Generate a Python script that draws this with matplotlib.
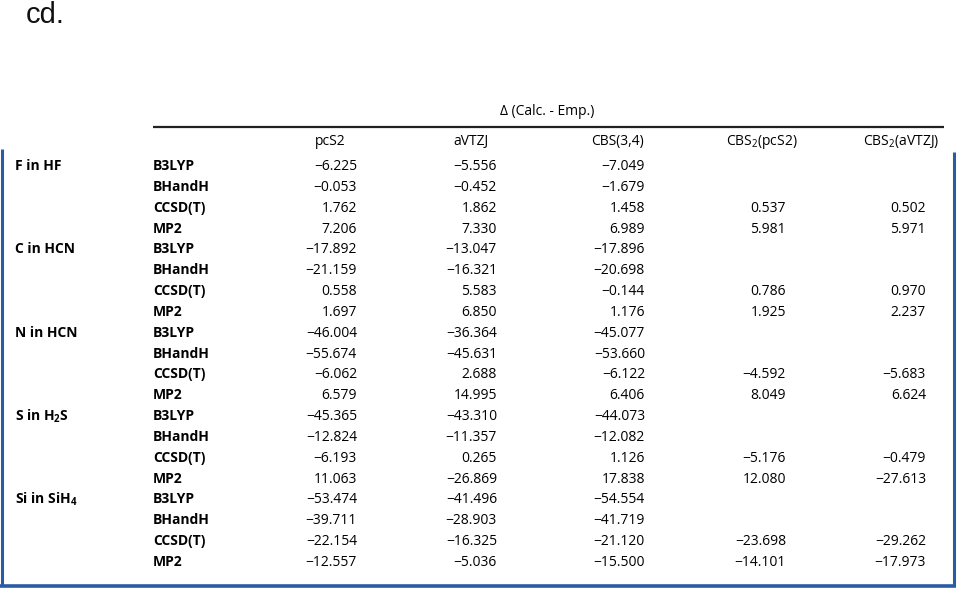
import matplotlib.pyplot as plt

# Table contents
groups = ["F in HF", "C in HCN", "N in HCN", "S in H$\\mathregular{_2}$S", "Si in SiH$\\mathregular{_4}$"]
methods = ["B3LYP", "BHandH", "CCSD(T)", "MP2"]
col_heads = ["pcS2", "aVTZJ", "CBS(3,4)",
             "CBS$\\mathregular{_2}$(pcS2)", "CBS$\\mathregular{_2}$(aVTZJ)"]

pcS2 = [-6.225, -0.053, 1.762, 7.206,
        -17.892, -21.159, 0.558, 1.697,
        -46.004, -55.674, -6.062, 6.579,
        -45.365, -12.824, -6.193, 11.063,
        -53.474, -39.711, -22.154, -12.557]
aVTZJ = [-5.556, -0.452, 1.862, 7.330,
         -13.047, -16.321, 5.583, 6.850,
         -36.364, -45.631, 2.688, 14.995,
         -43.310, -11.357, 0.265, -26.869,
         -41.496, -28.903, -16.325, -5.036]
cbs34 = [-7.049, -1.679, 1.458, 6.989,
         -17.896, -20.698, -0.144, 1.176,
         -45.077, -53.660, -6.122, 6.406,
         -44.073, -12.082, 1.126, 17.838,
         -54.554, -41.719, -21.120, -15.500]
cbs2_pcS2 = [None, None, 0.537, 5.981,
             None, None, 0.786, 1.925,
             None, None, -4.592, 8.049,
             None, None, -5.176, 12.080,
             None, None, -23.698, -14.101]
cbs2_aVTZJ = [None, None, 0.502, 5.971,
              None, None, 0.970, 2.237,
              None, None, -5.683, 6.624,
              None, None, -0.479, -27.613,
              None, None, -29.262, -17.973]

columns = [pcS2, aVTZJ, cbs34, cbs2_pcS2, cbs2_aVTZJ]

plt.rcParams['mathtext.fontset'] = 'custom'
plt.rcParams['mathtext.rm'] = 'Open Sans'

fig = plt.figure(figsize=(9.6, 5.9), dpi=100)
ax = fig.add_axes([0, 0, 1, 1])
ax.set_xlim(0, 960)
ax.set_ylim(590, 0)
ax.axis('off')

font = 'Open Sans'
fs = 10
blue = '#2a5ca4'
off = 5  # baseline offset below the row centre

# stray text at the top
ax.text(26, 23, "cd.", fontsize=21, family='Liberation Sans', va='baseline', color='#111111')

# header
ax.text(547, 110 + off, "\u0394 (Calc. - Emp.)", fontsize=fs, family=font,
        ha='center', va='baseline')
ax.plot([153, 944], [127, 127], color='#222222', lw=1.6, solid_capstyle='butt')

head_x = [330, 471, 617, 762, 901]
num_right = [357, 497, 645, 786, 926]
for x, h in zip(head_x, col_heads):
    ax.text(x, 140 + off, h, fontsize=fs, family=font, ha='center', va='baseline')

row0 = 165
step = (561 - 165) / 19

for i in range(len(pcS2)):
    y = row0 + i * step + off
    if i % 4 == 0:
        ax.text(15, y, groups[i // 4], fontsize=fs, family=font, weight='bold',
                ha='left', va='baseline')
    ax.text(153, y, methods[i % 4], fontsize=fs, family=font, weight='bold',
            ha='left', va='baseline')
    for xr, col in zip(num_right, columns):
        v = col[i]
        if v is None:
            continue
        s = "%.3f" % v
        s = s.replace("-", "\u2212")
        ax.text(xr, y, s, fontsize=fs, family=font, ha='right', va='baseline')

# blue frame
ax.plot([2, 2], [149, 586], color=blue, lw=2.2, solid_capstyle='butt')
ax.plot([954, 954], [152, 586], color=blue, lw=2.2, solid_capstyle='butt')
ax.plot([0, 955.5], [585.5, 585.5], color=blue, lw=2.6, solid_capstyle='butt')

fig.savefig("out.png", dpi=100, facecolor='white')
